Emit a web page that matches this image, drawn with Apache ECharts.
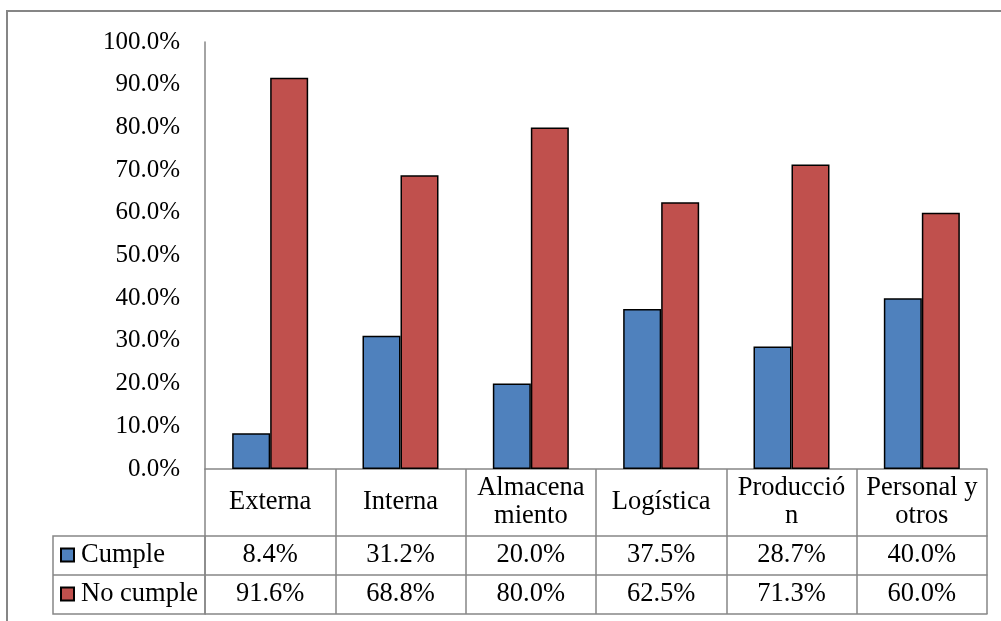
<!DOCTYPE html>
<html>
<head>
<meta charset="utf-8">
<script src="https://cdn.jsdelivr.net/npm/echarts@6/dist/echarts.min.js"></script>
<style>
    html, body { margin: 0; padding: 0; background: #fff; }
    #chart { width: 1001px; height: 621px; }
</style>
</head>
<body>
<div id="chart"></div>
<script>
// datos del grafico
var categorias = ['Externa', 'Interna', 'Almacena\nmiento', 'Logística', 'Producció\nn', 'Personal y\notros'];
var cumple = [8.4, 31.2, 20.0, 37.5, 28.7, 40.0];
var noCumple = [91.6, 68.8, 80.0, 62.5, 71.3, 60.0];
var series = ['Cumple', 'No cumple'];
var colores = ['#4F81BD', '#C0504D'];

var fuente = '"Liberation Serif", "Times New Roman", serif';
var gris = '#868686';

// ==========================
// medidas de la tabla de datos
// ==========================
var gridLeft = 205, gridTop = 42, gridRight = 14, gridBottom = 152;
var tablaLeft = 53;
var ejeY0 = 621 - gridBottom;      // y del 0%
var filaCab = 67, fila = 39;

var chart = echarts.init(document.getElementById('chart'));

function ejeTabla(offset, valores, conTicks, margen) {
    return {
        type: 'category',
        data: categorias,
        position: 'bottom',
        offset: offset,
        axisLine: { show: true, lineStyle: { color: gris, width: 1.5 } },
        axisTick: { show: conTicks, inside: false, length: filaCab + fila * 2, lineStyle: { color: gris, width: 1.5 } },
        axisLabel: {
            show: !!valores || offset === 0,
            interval: 0,
            margin: margen,
            verticalAlign: 'middle',
            fontFamily: fuente,
            fontSize: 26.5,
            lineHeight: 28,
            color: '#000',
            formatter: function (v, i) {
                return valores ? valores[i].toFixed(1) + '%' : v;
            }
        },
        splitLine: { show: false }
    };
}

var y1 = ejeY0 + filaCab, y2 = y1 + fila;

var option = {
    animation: false,
    backgroundColor: '#fff',
    grid: { left: gridLeft, right: gridRight, top: gridTop, bottom: gridBottom },
    legend: {
        orient: 'vertical',
        left: tablaLeft + 7,
        top: y1 + 5,
        padding: 0,
        itemGap: 11,
        itemWidth: 13,
        itemHeight: 13,
        icon: 'rect',
        textStyle: { fontFamily: fuente, fontSize: 26.5, lineHeight: 28, color: '#000', padding: [0, 0, 0, 2] },
        data: series
    },
    xAxis: [
        ejeTabla(0, null, true, 33),
        ejeTabla(filaCab, cumple, false, 19),
        ejeTabla(filaCab + fila, noCumple, false, 19),
        ejeTabla(filaCab + fila * 2, null, false, 0)
    ],
    yAxis: {
        type: 'value',
        min: 0,
        max: 100,
        interval: 10,
        axisLine: { show: true, lineStyle: { color: gris, width: 1.5 } },
        axisTick: { show: false },
        splitLine: { show: false },
        axisLabel: {
            margin: 25,
            fontFamily: fuente,
            fontSize: 25,
            color: '#000',
            formatter: function (v) { return v.toFixed(1) + '%'; }
        }
    },
    graphic: [
        // borde exterior
        { type: 'rect', shape: { x: 7, y: 11, width: 1010, height: 630 }, style: { fill: 'none', stroke: gris, lineWidth: 2 }, silent: true },
        // columna de leyenda de la tabla
        { type: 'rect', shape: { x: tablaLeft, y: y1, width: gridLeft - tablaLeft, height: fila * 2 }, style: { fill: 'none', stroke: gris, lineWidth: 1.5 }, silent: true, z: 10 },
        { type: 'line', shape: { x1: tablaLeft, y1: y2, x2: gridLeft, y2: y2 }, style: { stroke: gris, lineWidth: 1.5 }, silent: true, z: 10 }
    ],
    series: [
        {
            name: series[0],
            type: 'bar',
            data: cumple,
            barWidth: 38,
            barGap: '0%',
            itemStyle: { color: colores[0], borderColor: '#000', borderWidth: 1.5 }
        },
        {
            name: series[1],
            type: 'bar',
            data: noCumple,
            barWidth: 38,
            barGap: '0%',
            itemStyle: { color: colores[1], borderColor: '#000', borderWidth: 1.5 }
        }
    ]
};

chart.setOption(option);
</script>
</body>
</html>
